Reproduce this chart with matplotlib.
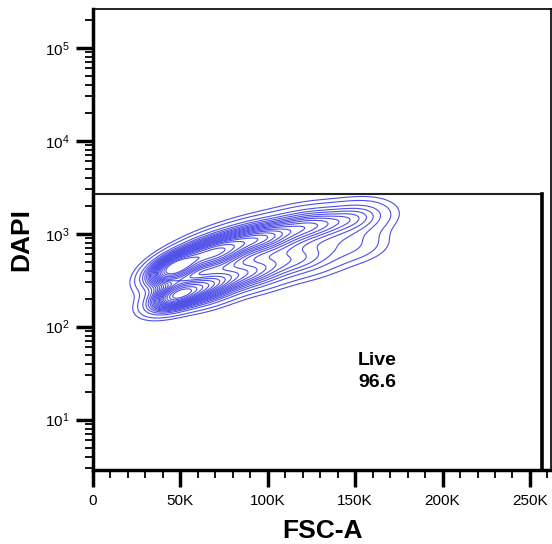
"""Contour plot of DAPI vs FSC-A with the 'Live' gate."""

import numpy as np
import matplotlib

matplotlib.use("Agg")
import matplotlib.pyplot as plt
from matplotlib.ticker import FixedLocator, LogLocator, NullFormatter, LogFormatterSciNotation

plt.rcParams["font.family"] = ["Liberation Sans", "DejaVu Sans"]
plt.rcParams["mathtext.fontset"] = "custom"
plt.rcParams["mathtext.rm"] = "Liberation Sans"

# population components: FSC-A (in K) and log10 DAPI
comp_fsc_k = [45, 68, 95, 125, 152, 46, 64, 90, 120, 150]
comp_log_dapi = [2.62, 2.79, 2.95, 3.09, 3.18, 2.32, 2.42, 2.58, 2.73, 2.87]
comp_weight = [1.0, 0.85, 0.65, 0.45, 0.28, 0.80, 0.65, 0.45, 0.30, 0.16]
comp_sd_fsc_k = [10, 13, 15, 15, 13, 10, 13, 15, 15, 13]
comp_sd_log = [0.12, 0.13, 0.13, 0.13, 0.12, 0.11, 0.13, 0.13, 0.13, 0.12]
comp_tilt = [0.5, 0.4, 0.3, 0.2, 0.2, 0.5, 0.4, 0.3, 0.2, 0.2]
contour_fractions = list(np.arange(0.05, 0.96, 0.05)) + [0.975]

# gate
gate_x_max = 257000
gate_y_max = 2650
gate_label = "Live\n96.6"
gate_label_pos = (151600, 33)

x_major = [0, 50000, 100000, 150000, 200000, 250000]
x_labels = ["0", "50K", "100K", "150K", "200K", "250K"]
x_range = (0, 262144)
y_range = (2.87, 262144)


def main() -> None:
    fig = plt.figure(figsize=(5.52, 5.44), dpi=100)
    ax = fig.add_axes([0.1685, 0.136, 0.83, 0.8475])

    gx = np.linspace(0, 262, 600)
    gy = np.linspace(0.4, 5.5, 600)
    X, Y = np.meshgrid(gx, gy)
    dens = np.zeros_like(X)
    for cx, cy, w, sx, sy, r in zip(comp_fsc_k, comp_log_dapi, comp_weight,
                                    comp_sd_fsc_k, comp_sd_log, comp_tilt):
        u = (X - cx) / sx
        v = (Y - cy) / sy
        dens += w * np.exp(-0.5 * (u * u - 2 * r * u * v + v * v) / (1 - r * r))

    # probability contours: each ring holds the same share of events
    flat = np.sort(dens.ravel())[::-1]
    cum = np.cumsum(flat) / flat.sum()
    levels = np.sort([flat[np.searchsorted(cum, p)] for p in contour_fractions])
    ax.contour(X * 1000, 10 ** Y, dens, levels=levels, colors="#4f4fe8", linewidths=0.8)

    # gate rectangle
    ax.plot([0, gate_x_max], [gate_y_max, gate_y_max], color="#222222", lw=1.5, clip_on=False)
    ax.plot([gate_x_max, gate_x_max], [y_range[0], gate_y_max], color="black", lw=2.6, clip_on=False)
    ax.text(*gate_label_pos, gate_label, ha="left", va="center", fontsize=14,
            fontweight="bold", linespacing=1.35)

    ax.set_yscale("log")
    ax.set_xlim(*x_range)
    ax.set_ylim(*y_range)

    ax.xaxis.set_major_locator(FixedLocator(x_major))
    ax.set_xticklabels(x_labels)
    ax.xaxis.set_minor_locator(FixedLocator(np.arange(0, 262144, 10000)))
    ax.yaxis.set_major_locator(LogLocator(base=10, numticks=10))
    ax.yaxis.set_major_formatter(LogFormatterSciNotation())
    ax.yaxis.set_minor_locator(LogLocator(base=10, subs=np.arange(2, 10), numticks=20))
    ax.yaxis.set_minor_formatter(NullFormatter())

    ax.tick_params(which="major", length=12, width=2.5, labelsize=11, pad=5, color="black")
    ax.tick_params(which="minor", length=6, width=1.3, color="black")

    for side in ("left", "bottom"):
        ax.spines[side].set_linewidth(2.5)
    for side in ("top", "right"):
        ax.spines[side].set_linewidth(1.2)

    ax.set_xlabel("FSC-A", fontsize=19, fontweight="bold", labelpad=8)
    ax.set_ylabel("DAPI", fontsize=19, fontweight="bold", labelpad=8)

    fig.savefig("out.png", dpi=100)


if __name__ == "__main__":
    main()
